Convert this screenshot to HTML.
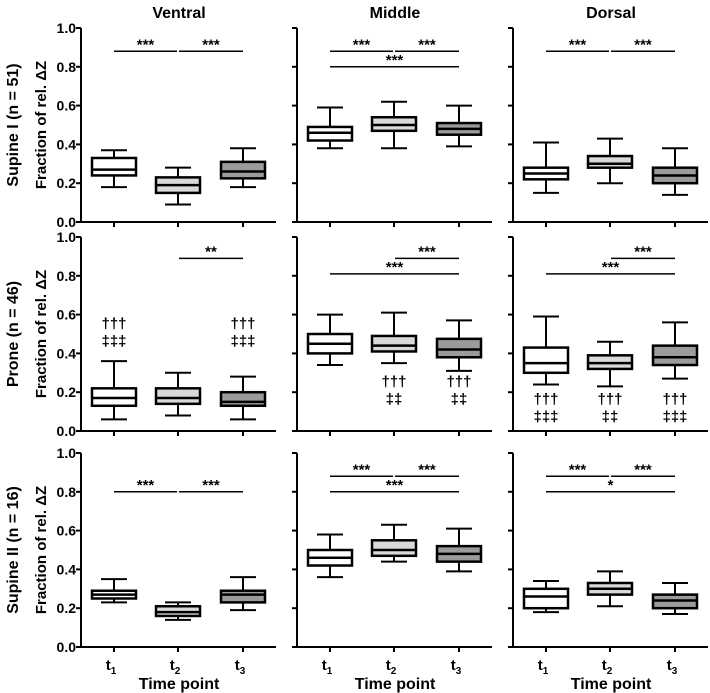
<!DOCTYPE html>
<html><head><meta charset="utf-8"><style>
body{margin:0;background:#fff}
svg{display:block;font-family:"Liberation Sans",Arial,sans-serif;font-weight:bold}
</style></head><body>
<svg id="c" width="710" height="693"></svg>
<script>
const colNames=["Ventral","Middle","Dorsal"];
const rowNames=["Supine I (n = 51)","Prone (n = 46)","Supine II (n = 16)"];
const categories=["t1","t2","t3"];
const yTicks=[0,0.2,0.4,0.6,0.8,1.0];
const yTickLabels=["0.0","0.2","0.4","0.6","0.8","1.0"];
// [min,q1,median,q3,max] per row, column, time point
const supineI_ventral=[[0.18,0.24,0.27,0.33,0.37],[0.09,0.15,0.19,0.23,0.28],[0.18,0.225,0.26,0.31,0.38]];
const supineI_middle=[[0.38,0.42,0.46,0.49,0.59],[0.38,0.47,0.50,0.54,0.62],[0.39,0.45,0.48,0.51,0.60]];
const supineI_dorsal=[[0.15,0.22,0.25,0.28,0.41],[0.20,0.28,0.30,0.34,0.43],[0.14,0.20,0.24,0.28,0.38]];
const prone_ventral=[[0.06,0.13,0.17,0.22,0.36],[0.08,0.14,0.17,0.22,0.30],[0.06,0.13,0.15,0.20,0.28]];
const prone_middle=[[0.34,0.40,0.45,0.50,0.60],[0.35,0.41,0.44,0.49,0.61],[0.31,0.38,0.42,0.475,0.57]];
const prone_dorsal=[[0.24,0.30,0.35,0.43,0.59],[0.23,0.32,0.35,0.39,0.46],[0.27,0.34,0.38,0.44,0.56]];
const supineII_ventral=[[0.23,0.25,0.27,0.29,0.35],[0.14,0.16,0.18,0.21,0.23],[0.19,0.23,0.27,0.29,0.36]];
const supineII_middle=[[0.36,0.42,0.46,0.50,0.58],[0.44,0.47,0.50,0.55,0.63],[0.39,0.44,0.48,0.52,0.61]];
const supineII_dorsal=[[0.18,0.20,0.26,0.30,0.34],[0.21,0.27,0.30,0.33,0.39],[0.17,0.20,0.24,0.27,0.33]];
const data=[[supineI_ventral,supineI_middle,supineI_dorsal],[prone_ventral,prone_middle,prone_dorsal],[supineII_ventral,supineII_middle,supineII_dorsal]];
// significance: [row,col,fromIdx,toIdx,yValue,label]
const sigs=[[0,0,0,1,0.88,"***"],[0,0,1,2,0.88,"***"],
[0,1,0,1,0.88,"***"],[0,1,1,2,0.88,"***"],[0,1,0,2,0.80,"***"],
[0,2,0,1,0.88,"***"],[0,2,1,2,0.88,"***"],
[1,0,1,2,0.89,"**"],
[1,1,1,2,0.89,"***"],[1,1,0,2,0.81,"***"],
[1,2,1,2,0.89,"***"],[1,2,0,2,0.81,"***"],
[2,0,0,1,0.80,"***"],[2,0,1,2,0.80,"***"],
[2,1,0,1,0.88,"***"],[2,1,1,2,0.88,"***"],[2,1,0,2,0.80,"***"],
[2,2,0,1,0.88,"***"],[2,2,1,2,0.88,"***"],[2,2,0,2,0.80,"*"]];
// daggers: [row,col,idx,yValue,label]
const marks=[[1,0,0,0.56,"†††"],[1,0,0,0.47,"‡‡‡"],[1,0,2,0.56,"†††"],[1,0,2,0.47,"‡‡‡"],
[1,1,1,0.26,"†††"],[1,1,1,0.17,"‡‡"],[1,1,2,0.26,"†††"],[1,1,2,0.17,"‡‡"],
[1,2,0,0.17,"†††"],[1,2,0,0.08,"‡‡‡"],[1,2,1,0.17,"†††"],[1,2,1,0.08,"‡‡"],[1,2,2,0.17,"†††"],[1,2,2,0.08,"‡‡‡"]];
const fills=["#ffffff","#d9d9d9","#9b9b9b"];
const medColors=["#000","#000","#000"];
const colX=[81,297,513], rowTop=[28,237,453], H=194, W=195, tickOff=[33,97,162], hw=22;
const svg=document.getElementById('c');const NS="http://www.w3.org/2000/svg";
function el(t,a,p){const e=document.createElementNS(NS,t);for(const k in a)e.setAttribute(k,a[k]);(p||svg).appendChild(e);return e;}
function yS(r,v){return rowTop[r]+H*(1-v);}
function xS(c,i){return colX[c]+tickOff[i];}
colNames.forEach((n,c)=>{const t=el('text',{x:colX[c]+98,y:18,'text-anchor':'middle','font-size':16});t.textContent=n;
});
rowNames.forEach((n,r)=>{const cy=rowTop[r]+H/2;
const t=el('text',{x:0,y:0,transform:`translate(18,${cy}) rotate(-90)`,'text-anchor':'middle','font-size':16});t.textContent=n;

const t2=el('text',{x:0,y:0,transform:`translate(46,${cy}) rotate(-90)`,'text-anchor':'middle','font-size':15});t2.textContent="Fraction of rel. ΔZ";
});
for(let r=0;r<3;r++)for(let c=0;c<3;c++){
 const g=el('g',{stroke:'#000','stroke-width':2,fill:'none'});
 
 const x0=colX[c],yb=yS(r,0),yt=yS(r,1);
 el('line',{x1:x0,y1:yt,x2:x0,y2:yb+1},g);
 el('line',{x1:x0-1,y1:yb,x2:x0+W,y2:yb},g);
 yTicks.forEach((v,i)=>{el('line',{x1:x0-5,y1:yS(r,v),x2:x0,y2:yS(r,v)},g);
  if(c==0){const t=el('text',{x:x0-5,y:yS(r,v)+5,'text-anchor':'end','font-size':14,stroke:'none',fill:'#000'});t.textContent=yTickLabels[i];
   }});
 categories.forEach((cat,i)=>{const x=xS(c,i);el('line',{x1:x,y1:yb,x2:x,y2:yb+5},g);
  const d=data[r][c][i];
  const b=el('g',{},g);
  el('line',{x1:x,y1:yS(r,d[4]),x2:x,y2:yS(r,d[3])},b);
  el('line',{x1:x,y1:yS(r,d[0]),x2:x,y2:yS(r,d[1])},b);
  el('line',{x1:x-13,y1:yS(r,d[4]),x2:x+13,y2:yS(r,d[4])},b);
  el('line',{x1:x-13,y1:yS(r,d[0]),x2:x+13,y2:yS(r,d[0])},b);
  el('rect',{x:x-hw,y:yS(r,d[3]),width:2*hw,height:yS(r,d[1])-yS(r,d[3]),fill:fills[i],'stroke-width':2.5},b);
  el('line',{x1:x-hw,y1:yS(r,d[2]),x2:x+hw,y2:yS(r,d[2]),'stroke-width':2.5,stroke:medColors[i]},b);
  if(r==2){const t=el('text',{x:x-3,y:670,'text-anchor':'middle','font-size':15,stroke:'none',fill:'#000'});t.textContent="t";
   const s=el('tspan',{dy:4,'font-size':10},t);s.textContent=cat.slice(1);
   }
 });
 if(r==2){const t=el('text',{x:x0+98,y:689,'text-anchor':'middle','font-size':16});t.textContent="Time point";
  }
}
sigs.forEach(s=>{const[r,c,a,b,v,l]=s;let x1=xS(c,a),x2=xS(c,b);
 if(b-a==1){if(a==1)x1+=1;else x2-=1;}
 const y=yS(r,v);
 const ln=el('line',{x1:x1,y1:y,x2:x2,y2:y,stroke:'#000','stroke-width':1.5});
 
 const t=el('text',{x:(x1+x2)/2,y:y-2,'text-anchor':'middle','font-size':15});t.textContent=l;
 });
marks.forEach(m=>{const[r,c,i,v,l]=m;const t=el('text',{x:xS(c,i),y:yS(r,v)+6,'text-anchor':'middle','font-size':15});t.textContent=l;
 });
</script>
</body></html>
